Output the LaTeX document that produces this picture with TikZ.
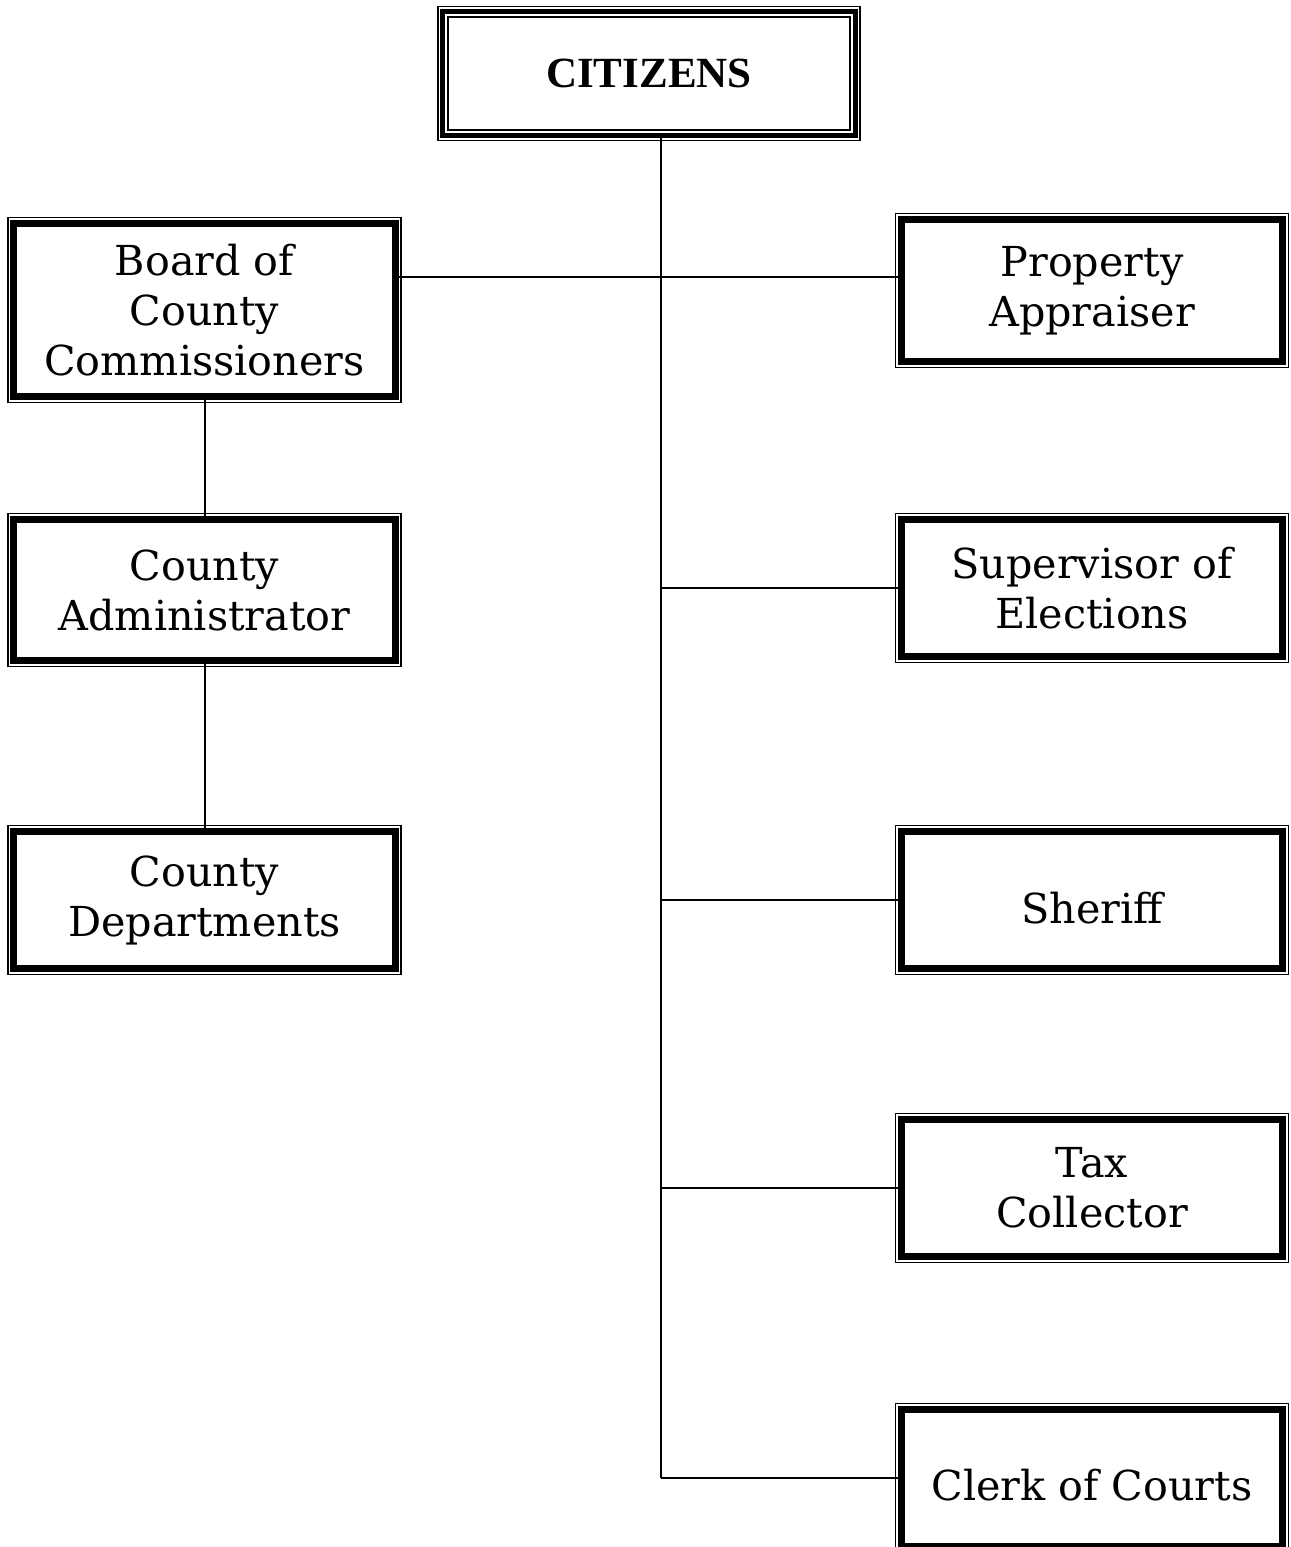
\documentclass[tikz,border=0pt]{standalone}
\usepackage{fontspec}
\setmainfont{DejaVu Serif}
\newfontfamily\headfont{Liberation Serif}
\usepackage{tikz}
\usetikzlibrary{positioning,calc}

\tikzset{
	office/.style={draw, line width=0.134cm, minimum width=7.63cm, minimum height=2.74cm,
		inner sep=0pt, align=center, font=\fontsize{23.5}{28.45}\selectfont},
	top office/.style={draw, line width=0.1cm, minimum width=8.25cm, minimum height=2.48cm,
		inner sep=0pt, font=\headfont\bfseries\fontsize{24.5}{28}\selectfont},
	rim/.style={line width=0.026cm},
	link/.style={line width=0.04cm}
}

\begin{document}
\begin{tikzpicture}
	\useasboundingbox (0,0) rectangle (25.8,-30.94);
	% the people on top
	\node[top office] (cit) at (12.98,-1.47) {CITIZENS};
	\draw[rim] ($(cit.north west)+(-0.046,0.046)$) rectangle ($(cit.south east)+(0.046,-0.046)$);
	\draw[line width=0.04cm] ($(cit.north west)+(0.16,-0.16)$) rectangle ($(cit.south east)+(-0.16,0.16)$);

	% left column
	\node[office, minimum height=3.47cm] (board) at (4.09,-6.2) {Board of\\County\\Commissioners};
	\node[office, minimum height=2.83cm] (admin) at (4.09,-11.8) {County\\Administrator};
	\node[office] (dept) at (4.09,-18) {County\\Departments};

	% right column
	\node[office, minimum height=2.84cm] (prop) at (21.84,-5.81) {Property\\Appraiser};
	\node[office] (super) at (21.84,-11.76) {Supervisor of\\Elections};
	\node[office] (sheriff) at (21.84,-18) {\raisebox{-0.16cm}[\height][\depth]{Sheriff}};
	\node[office] (tax) at (21.84,-23.76) {Tax\\Collector};
	\node[office] (clerk) at (21.84,-29.56) {\raisebox{-0.14cm}[\height][\depth]{Clerk of Courts}};

	\foreach \n in {board,admin,dept,prop,super,sheriff,tax,clerk}
		\draw[rim] ($(\n.north west)+(-0.048,0.048)$) rectangle ($(\n.south east)+(0.048,-0.048)$);

	% connectors
	\coordinate (trunk) at ([xshift=0.24cm]cit.south);
	\coordinate (pa) at ([yshift=0.27cm]prop.west);
	\draw[link] (trunk) -- (trunk |- clerk.west);
	\draw[link] (pa -| board.east) -- (pa);
	\foreach \n in {super,sheriff,tax,clerk}
		\draw[link] (trunk |- \n.west) -- (\n.west);
	\draw[link] (board.south) -- (admin.north);
	\draw[link] (admin.south) -- (dept.north);
\end{tikzpicture}
\end{document}
